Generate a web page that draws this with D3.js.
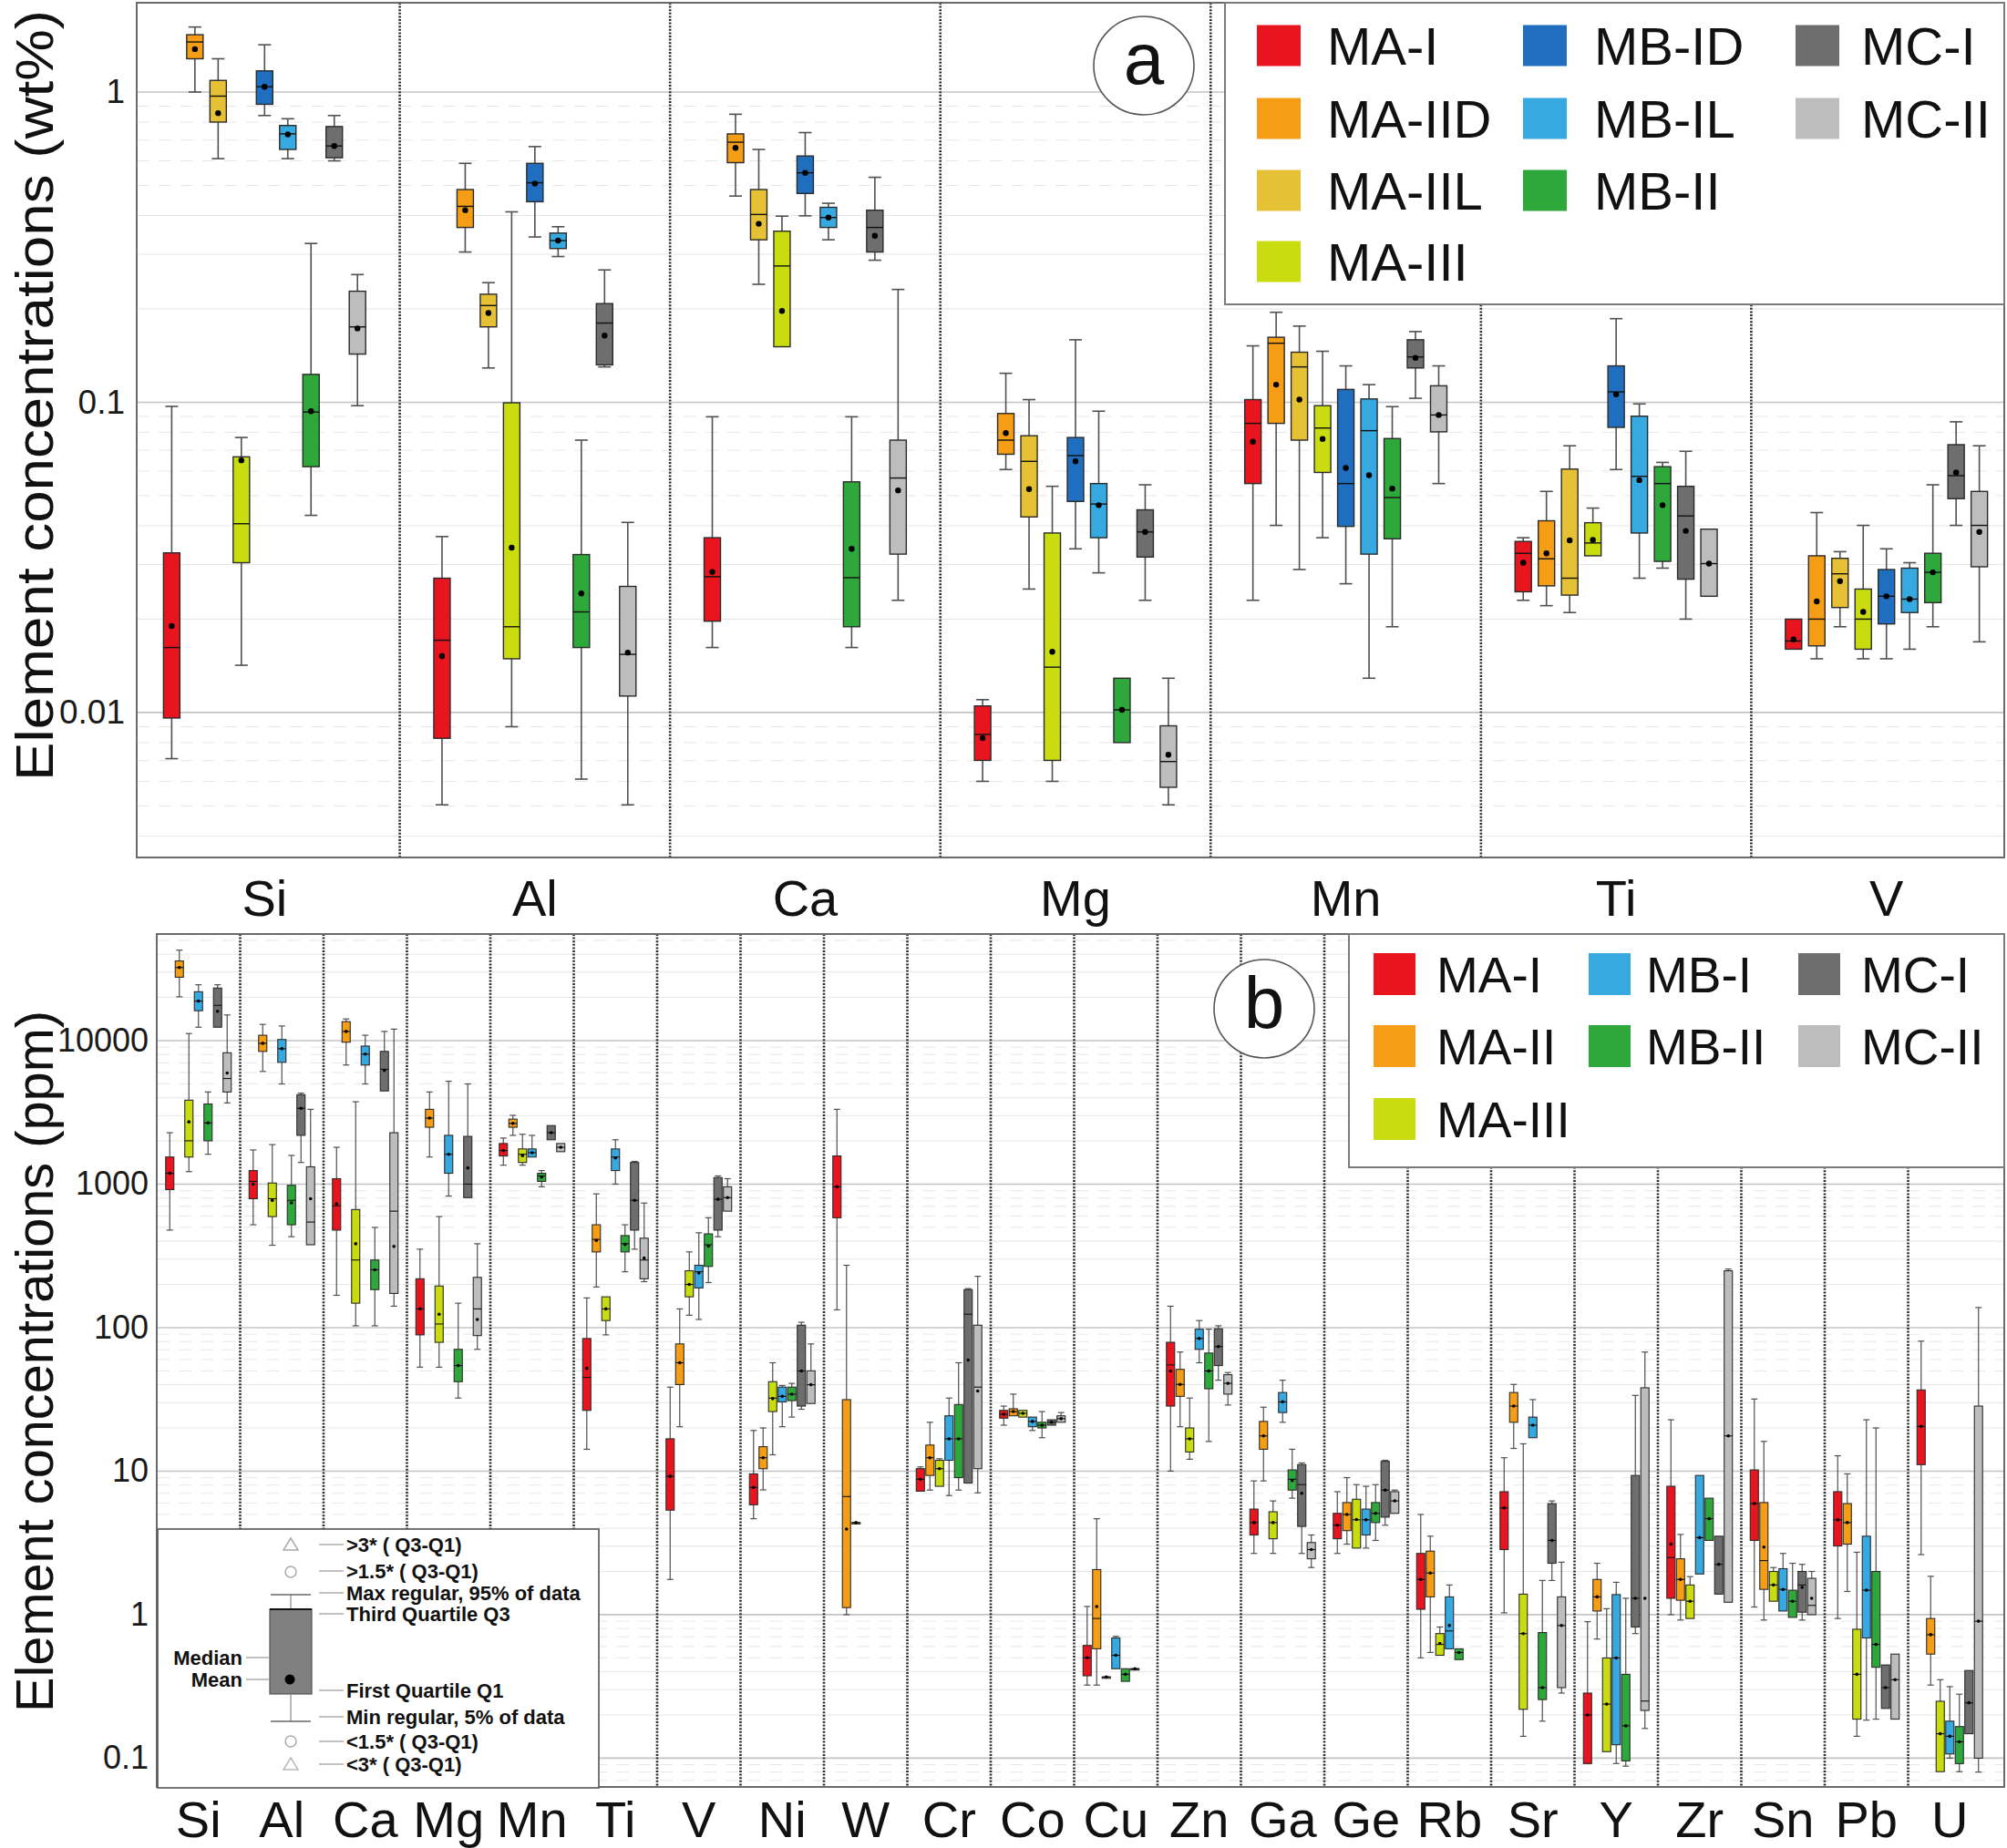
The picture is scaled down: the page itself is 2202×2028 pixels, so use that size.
<!DOCTYPE html>
<html><head><meta charset="utf-8">
<script src="https://cdn.jsdelivr.net/npm/d3@7"></script>
<style>
body{margin:0;background:#fff;}
svg{display:block;font-family:"Liberation Sans",Arial,Helvetica,sans-serif;}
</style>
</head><body>
<svg id="chart" width="2202" height="2028"></svg>
<script>
// ---------------- DATA: panel a (wt%) ----------------
// each entry: [low whisker, Q1, median, Q3, high whisker, mean]
const seriesA = ["MA-I","MA-IID","MA-IIL","MA-III","MB-ID","MB-IL","MB-II","MC-I","MC-II"];
const colorsA = ["#e8141e","#f59d14","#e6c136","#c8dc10","#1f6ebf","#36a9e1","#2ea83a","#6e6e6e","#bdbdbd"];
const elementsA = ["Si","Al","Ca","Mg","Mn","Ti","V"];
const ticksA = [0.01, 0.1, 1];
const tickLabelsA = ["0.01","0.1","1"];

const a_Si = [[0.0071,0.0096,0.0162,0.0327,0.097,0.019],[1.0,1.28,1.45,1.53,1.62,1.375],[0.61,0.80,0.97,1.09,1.28,0.855],[0.0142,0.0304,0.0406,0.0667,0.077,0.065],[0.84,0.913,1.04,1.17,1.42,1.04],[0.61,0.653,0.733,0.78,0.82,0.73],[0.0432,0.062,0.093,0.123,0.325,0.0936],[0.60,0.614,0.67,0.774,0.84,0.67],[0.0975,0.143,0.175,0.228,0.258,0.173]];
const a_Al = [[0.00504,0.00826,0.0171,0.0271,0.0369,0.0152],[0.305,0.366,0.428,0.485,0.589,0.416],[0.129,0.175,0.205,0.223,0.243,0.194],[0.009,0.0149,0.0189,0.0996,0.411,0.034],[0.341,0.443,0.51,0.589,0.667,0.507],[0.295,0.313,0.332,0.351,0.368,0.332],[0.0061,0.0162,0.0211,0.0323,0.0755,0.0242],[0.13,0.132,0.18,0.208,0.267,0.164],[0.00504,0.0113,0.0154,0.0255,0.041,0.0156]];
const a_Ca = [[0.0162,0.0197,0.0274,0.0366,0.0898,0.0284],[0.462,0.592,0.689,0.733,0.848,0.661],[0.24,0.334,0.403,0.485,0.653,0.376],[0.151,0.151,0.275,0.356,0.398,0.197],[0.399,0.471,0.549,0.622,0.74,0.549],[0.334,0.366,0.394,0.425,0.438,0.394],[0.0162,0.0189,0.0272,0.0554,0.0898,0.0337],[0.287,0.305,0.366,0.416,0.531,0.344],[0.023,0.0324,0.057,0.0755,0.231,0.052]];
const a_Mg = [[0.006,0.00701,0.0085,0.0105,0.011,0.00827],[0.0607,0.068,0.0755,0.092,0.124,0.0796],[0.025,0.0427,0.0645,0.078,0.102,0.0525],[0.006,0.00701,0.014,0.0379,0.0536,0.0157],[0.0337,0.0479,0.0673,0.077,0.159,0.0645],[0.0282,0.0366,0.047,0.0547,0.0936,0.0466],[0.008,0.008,0.0102,0.0129,0.0129,0.0102],[0.023,0.0317,0.0382,0.045,0.0542,0.0382],[0.00504,0.00574,0.00695,0.00906,0.0129,0.00731]];
const a_Mn = [[0.023,0.0547,0.0855,0.102,0.152,0.0746],[0.0401,0.0855,0.155,0.162,0.195,0.114],[0.0289,0.0755,0.13,0.145,0.176,0.102],[0.0366,0.0594,0.0826,0.0975,0.146,0.0762],[0.026,0.0398,0.0547,0.11,0.131,0.0614],[0.0129,0.0324,0.081,0.1025,0.114,0.0582],[0.0189,0.0363,0.0493,0.0764,0.0968,0.0527],[0.103,0.129,0.14,0.159,0.169,0.139],[0.0547,0.0803,0.091,0.113,0.131,0.091]];
const a_Ti = [[0.023,0.0245,0.0326,0.0356,0.0366,0.0304],[0.0221,0.0256,0.0313,0.0415,0.0516,0.0326],[0.021,0.0239,0.0271,0.0609,0.0724,0.0359],[0.032,0.032,0.0352,0.0409,0.0456,0.036],[0.0607,0.083,0.108,0.131,0.186,0.106],[0.0271,0.0379,0.0577,0.0902,0.0988,0.0561],[0.0292,0.0307,0.0547,0.062,0.064,0.0466],[0.02,0.0269,0.043,0.0536,0.0695,0.0385],[0.0237,0.0237,0.0302,0.039,0.039,0.0302]];
const a_V  = [[0.016,0.016,0.017,0.02,0.02,0.0172],[0.0149,0.0164,0.02,0.032,0.0441,0.0228],[0.0189,0.0218,0.028,0.0314,0.033,0.0265],[0.0149,0.016,0.02,0.025,0.0401,0.0211],[0.0149,0.0193,0.0237,0.0289,0.0337,0.0237],[0.016,0.021,0.0232,0.0292,0.0304,0.0232],[0.0189,0.0226,0.0283,0.0326,0.0542,0.0283],[0.0401,0.0489,0.058,0.073,0.0865,0.0594],[0.0169,0.0295,0.0401,0.0516,0.0724,0.0382]];
const statsA = [a_Si,a_Al,a_Ca,a_Mg,a_Mn,a_Ti,a_V];

// ---------------- DATA: panel b (ppm) ----------------
const seriesB = ["MA-I","MA-II","MA-III","MB-I","MB-II","MC-I","MC-II"];
const colorsB = ["#e8141e","#f59d14","#c8dc10","#36a9e1","#2ea83a","#6e6e6e","#bdbdbd"];
const elementsB = ["Si","Al","Ca","Mg","Mn","Ti","V","Ni","W","Cr","Co","Cu","Zn","Ga","Ge","Rb","Sr","Y","Zr","Sn","Pb","U"];
const ticksB = [0.1, 1, 10, 100, 1000, 10000];
const tickLabelsB = ["0.1","1","10","100","1000","10000"];

const b_Si = [[478,916,1190,1545,2282,1190],[20200,27650,32300,35900,42700,32300],[1222,1545,2004,3845,11200,2715],[12400,16150,18850,21900,24500,18850],[1614,2004,2669,3617,4385,2669],[12400,12400,17600,23240,24500,16000],[3680,4385,5445,8225,15100,5950]];
const b_Al = [[521,791,1045,1243,1730,1000],[6095,8410,9580,10900,12970,9580],[375,594,791,1018,1885,770],[4990,7060,8780,10180,12650,8780],[430,521,771,982,1585,740],[1415,2187,3375,4195,4305,3375],[378,378,544,1320,3320,791]];
const b_Ca = [[168,478,706,1091,1805,730],[6760,9750,11590,13550,14150,11590],[103,148,296,665,3750,384],[4990,6760,8050,9160,10900,8050],[103,184,253,296,499,253],[4460,4460,6310,8410,11590,6200],[141,173,648,2282,12020,368]];
const b_Mg = [[53,89,135,219,352,135],[1545,2490,2885,3320,4385,2885],[53,79,106,195,594,124],[826,1190,1614,2187,5210,1614],[32.3,42,54.4,70.6,148,54.4],[805,805,1000,2150,4990,1297],[70.6,88,135,224,384,114]];
const b_Mn = [[1355,1571,1714,1919,2094,1714],[2187,2490,2648,2837,3015,2648],[1355,1415,1614,1759,2225,1580],[1545,1545,1656,1759,2187,1656],[958,1045,1140,1190,1243,1120],[2038,2038,2282,2558,2558,2282],[1683,1683,1805,1919,1919,1805]];
const b_Ti = [[14.2,26.5,45,84,161,52],[192,337,412,521,855,405],[89,112,135,164,164,135],[1000,1243,1545,1759,2038,1520],[245,337,384,438,521,380],[352,478,771,1415,1440,771],[209,219,296,420,738,305]];
const b_V  = [[1.76,5.35,9.2,16.8,38.5,9.2],[20.4,40.1,56.9,77,135,56.9],[122,164,200,249,337,200],[114,189,245,272,458,240],[206,267,378,450,583,370],[430,478,784,1110,1140,784],[648,648,805,958,1091,805]];
const b_Ni = [[4.66,5.83,7.7,9.57,19.2,7.7],[7.4,10.4,12.4,14.8,20,12.4],[13,26,32.3,42,56.9,32],[20.4,30.4,33.2,38.5,39.5,33.2],[23.8,31,34.4,38.5,40.9,34.4],[27,28.4,49.9,104,109,49.9],[29.6,29.6,40,50,77,40]];
const b_W  = [[133,583,958,1571,3320,958],[1.0,1.12,6.65,31.5,272,3.95],[4.38,4.38,4.38,4.38,4.38,4.38],null,null,null,null];
const b_Cr = [[7.25,7.25,8.78,10.4,10.7,8.78],[7.38,9.33,12.4,15.2,21.9,12.4],[7.84,7.84,10.4,11.9,12.2,10.4],[6.76,11.9,16.8,24.3,32.3,16.8],[7.38,9.01,16.8,29.1,56.9,16.8],[8.26,8.26,124,184,187,59.4],[7.06,10.4,38.5,104,228,36.2]];
const b_Co = [[20.9,23.4,24.9,26.5,28.4,24.9],[24.3,24.3,26,27.2,34.4,26],[23.8,23.8,25.3,26.5,26.5,25.3],[19.2,20.4,22.2,23.8,23.8,22.2],[17.1,20,20.9,21.9,26,20.9],[20.9,20.9,21.9,22.8,22.8,21.9],[21.9,21.9,23.2,24.3,25.6,23.2]];
const b_Cu = [[0.323,0.375,0.5,0.61,1.14,0.5],[0.323,0.578,0.94,2.06,4.66,1.14],[0.368,0.368,0.368,0.368,0.368,0.368],[0.42,0.42,0.521,0.688,0.706,0.521],[0.343,0.343,0.384,0.42,0.42,0.384],[0.42,0.42,0.42,0.42,0.42,0.42],null];
const b_Zn = [[10,28.4,55,79,141,49.9],[20.4,33.2,40.2,51.2,67.6,40.2],[12.1,13.6,16.8,20,32.3,16.8],[56.9,70.6,84,97.5,112,84],[16.1,37.5,49.9,66.5,97.5,49.9],[43,54.4,73.8,98.2,103,73.8],[28.9,34.4,40.9,47,48.6,40.9]];
const b_Ga = [[2.67,3.59,4.38,5.44,8.55,4.38],[8.55,14.2,17.6,22.2,27.9,17.6],[2.67,3.38,4.38,5.21,6.2,4.38],[21.9,25.6,30.4,35.3,43,30.4],[6.48,7.38,8.78,10.2,14.2,8.6],[2.67,4.12,8.05,11.1,11.4,7],[2.13,2.45,2.84,3.18,3.59,2.84]];
const b_Ge = [[2.67,3.38,4.2,5.08,7.19,4.2],[3.1,3.85,4.99,6.04,9.01,4.99],[2.91,2.91,4.58,6.37,8.05,4.6],[2.91,3.59,4.58,5.44,7.84,4.58],[3.29,4.38,5.08,6.04,8.05,5.08],[4.2,4.78,7.38,11.7,11.9,7.38],[5.08,5.08,6.2,7.19,7.38,6.2]];
const b_Rb = [[0.5,1.09,1.76,2.67,4.99,1.76],[0.545,1.33,1.95,2.77,3.52,1.95],[0.521,0.521,0.62,0.738,0.82,0.63],[0.578,0.578,0.77,1.33,1.61,0.84],[0.486,0.486,0.545,0.578,0.578,0.545],null,null];
const b_Sr = [[1.03,2.84,5.54,7.19,12.4,5.54],[14.4,21.9,28.4,35.3,40.2,28.4],[0.142,0.219,0.738,1.39,15.5,0.738],[17.1,17.1,20.9,23.8,31.5,20.9],[0.181,0.256,0.31,0.75,1.73,0.31],[1.73,2.28,3.29,5.94,6.2,3.29],[0.284,0.31,0.84,1.33,2.32,0.84]];
const b_Y  = [[0.0917,0.0917,0.2,0.284,0.893,0.2],[0.676,1.06,1.33,1.76,2.28,1.33],[0.111,0.111,0.238,0.499,1.1,0.238],[0.0917,0.124,0.499,1.38,1.68,0.499],[0.088,0.0957,0.168,0.384,1.3,0.168],[0.738,0.82,1.3,9.33,33.7,1.3],[0.161,0.215,0.25,38.1,67.6,1.3]];
const b_Zr = [[1.0,1.3,2.5,7.84,22.8,3.1],[0.917,1.26,1.76,2.45,3.62,1.76],[0.94,0.94,1.24,1.61,1.84,1.24],[1.92,1.92,3.44,9.33,9.33,3.44],[3.29,3.29,4.66,6.48,6.48,4.66],[1.39,1.39,2.24,3.52,3.52,2.24],[1.22,1.22,17.6,249,256,17.6]];
const b_Sn = [[1.13,3.29,5.94,10.2,31.8,5.94],[0.917,1.5,2.38,6.04,16.1,2.96],[1.24,1.24,1.61,2.0,2.13,1.61],[1.06,1.06,1.5,2.09,2.67,1.5],[0.957,0.957,1.24,1.48,2.28,1.24],[0.917,1.04,1.61,2.0,2.24,1.55],[1.0,1.0,1.16,1.79,2.0,1.3]];
const b_Pb = [[0.94,3.01,4.58,7.19,12.8,4.58],[1.45,3.1,4.38,5.94,9.57,4.38],[0.142,0.187,0.384,0.791,2.72,0.384],[0.184,0.688,1.48,3.52,22.8,1.48],[0.187,0.43,0.62,2.0,20,0.62],[0.222,0.222,0.31,0.446,0.446,0.31],[0.187,0.187,0.352,0.531,0.531,0.352]];
const b_U  = [[2.62,11.1,20.5,36.8,80.5,20.5],[0.323,0.531,0.725,0.94,1.85,0.725],[0.0805,0.0805,0.148,0.249,0.352,0.148],[0.1,0.107,0.142,0.181,0.315,0.142],[0.0805,0.0917,0.13,0.166,0.279,0.13],[0.148,0.148,0.243,0.408,0.408,0.243],[0.08,0.1,0.9,28.4,138,0.9]];
const statsB = [b_Si,b_Al,b_Ca,b_Mg,b_Mn,b_Ti,b_V,b_Ni,b_W,b_Cr,b_Co,b_Cu,b_Zn,b_Ga,b_Ge,b_Rb,b_Sr,b_Y,b_Zr,b_Sn,b_Pb,b_U];

const insetLabels = [">3* ( Q3-Q1)",">1.5* ( Q3-Q1)","Max regular, 95% of data","Third Quartile Q3","First Quartile Q1","Min regular, 5% of data","<1.5* ( Q3-Q1)","<3* ( Q3-Q1)"];

// ---------------- DRAWING ----------------
const svg = d3.select("#chart");

function drawPanel(cfg){
  const g = svg.append("g");
  const y = d3.scaleLog().domain(cfg.yDomain).range([cfg.bottom, cfg.top]);
  const x = d3.scaleBand().domain(cfg.elements).range(cfg.xRange);
  const xs = d3.scalePoint().domain(cfg.series).range([0, x.bandwidth()]).padding(cfg.slotPad);

  // grid
  const grid = g.append("g");
  const lo = Math.floor(Math.log10(cfg.yDomain[0])), hi = Math.ceil(Math.log10(cfg.yDomain[1]));
  for (let e = lo; e <= hi; e++) {
    for (let m = 1; m <= 9; m++) {
      const v = m * Math.pow(10, e);
      if (v < cfg.yDomain[0] || v > cfg.yDomain[1]) continue;
      grid.append("line").attr("x1", cfg.left).attr("x2", cfg.right)
        .attr("y1", y(v)).attr("y2", y(v))
        .attr("stroke", m === 1 ? "#c4c4c4" : "#e6e6e6")
        .attr("stroke-width", m === 1 ? 1.6 : 1)
        .attr("stroke-dasharray", (m >= 5) ? "14,10" : null);
    }
  }
  // dividers
  cfg.elements.slice(1).forEach(el => {
    g.append("line").attr("x1", x(el)).attr("x2", x(el))
      .attr("y1", cfg.top).attr("y2", cfg.bottom)
      .attr("stroke", "#2a2a2a").attr("stroke-width", 2.6)
      .attr("stroke-dasharray", "2,1.6");
  });
  // boxes
  const bw = cfg.boxW, cw = cfg.capW;
  cfg.stats.forEach((grp, gi) => {
    const el = cfg.elements[gi];
    grp.forEach((s, si) => {
      if (!s) return;
      const cx = x(el) + xs(cfg.series[si]);
      const [wl, q1, md, q3, wh, mn] = s;
      const bg = g.append("g");
      const wcol = "#505050";
      if (wh > q3) {
        bg.append("line").attr("x1", cx).attr("x2", cx).attr("y1", y(wh)).attr("y2", y(q3)).attr("stroke", wcol).attr("stroke-width", cfg.wW);
        bg.append("line").attr("x1", cx - cw/2).attr("x2", cx + cw/2).attr("y1", y(wh)).attr("y2", y(wh)).attr("stroke", wcol).attr("stroke-width", cfg.wW);
      }
      if (wl < q1) {
        bg.append("line").attr("x1", cx).attr("x2", cx).attr("y1", y(q1)).attr("y2", y(wl)).attr("stroke", wcol).attr("stroke-width", cfg.wW);
        bg.append("line").attr("x1", cx - cw/2).attr("x2", cx + cw/2).attr("y1", y(wl)).attr("y2", y(wl)).attr("stroke", wcol).attr("stroke-width", cfg.wW);
      }
      const top = y(q3), h = Math.max(1.5, y(q1) - y(q3));
      bg.append("rect").attr("x", cx - bw/2).attr("y", top).attr("width", bw).attr("height", h)
        .attr("fill", cfg.colors[si]).attr("stroke", "#2b2b2b").attr("stroke-width", cfg.bS);
      bg.append("line").attr("x1", cx - bw/2).attr("x2", cx + bw/2).attr("y1", y(md)).attr("y2", y(md))
        .attr("stroke", "#111").attr("stroke-width", cfg.bS);
      bg.append("circle").attr("cx", cx).attr("cy", y(mn)).attr("r", cfg.dotR).attr("fill", "#000");
    });
  });
  // frame
  g.append("rect").attr("x", cfg.left).attr("y", cfg.top).attr("width", cfg.right - cfg.left).attr("height", cfg.bottom - cfg.top)
    .attr("fill", "none").attr("stroke", "#6a6a6a").attr("stroke-width", 2);
  // y axis
  const ax = g.append("g").attr("transform", `translate(${cfg.left},0)`)
    .call(d3.axisLeft(y).tickValues(cfg.ticks).tickFormat((d,i) => cfg.tickLabels[i]).tickSize(0).tickPadding(cfg.tickPad));
  ax.select(".domain").remove();
  ax.selectAll("text").attr("font-size", cfg.tickFont).attr("fill", "#1a1a1a")
    .attr("font-family", '"Liberation Sans",Arial,sans-serif');
  // x labels
  g.selectAll("text.xl").data(cfg.elements).enter().append("text")
    .attr("x", d => x(d) + x.bandwidth()/2).attr("y", cfg.xLabelY)
    .attr("text-anchor", "middle").attr("font-size", 56).attr("fill", "#111").text(d => d);
  // y title
  g.append("text").attr("transform", `translate(${cfg.titleX},${cfg.titleY}) rotate(-90)`)
    .attr("text-anchor", "middle").attr("font-size", 57).attr("fill", "#111")
    .attr("textLength", cfg.titleLen).attr("lengthAdjust", "spacingAndGlyphs")
    .text(cfg.title);
  return {g, x, y};
}

const pa = drawPanel({
  elements: elementsA, series: seriesA, colors: colorsA, stats: statsA,
  yDomain: [0.00341, 1.94], top: 3, bottom: 941, left: 150, right: 2199,
  xRange: [142, 2218], slotPad: 1.82, boxW: 18, capW: 14, wW: 1.6, bS: 1.4, dotR: 3.2,
  ticks: ticksA, tickLabels: tickLabelsA, tickPad: 13, tickFont: 37,
  xLabelY: 1005, titleX: 58, titleY: 434, titleLen: 846, title: "Element concentrations (wt%)"
});
const pb = drawPanel({
  elements: elementsB, series: seriesB, colors: colorsB, stats: statsB,
  yDomain: [0.063, 55300], top: 1025, bottom: 1961, left: 172, right: 2199,
  xRange: [172, 2185], slotPad: 1.36, boxW: 9, capW: 7, wW: 1.2, bS: 1.1, dotR: 1.8,
  ticks: ticksB, tickLabels: tickLabelsB, tickPad: 9, tickFont: 36,
  xLabelY: 2016, titleX: 58, titleY: 1494, titleLen: 770, title: "Element concentrations (ppm)"
});

// ---------------- LEGENDS ----------------
function legend(box, names, colors, cols, rows, font, sw) {
  const lg = svg.append("g");
  lg.append("rect").attr("x", box[0]).attr("y", box[1]).attr("width", box[2]).attr("height", box[3])
    .attr("fill", "#fff").attr("stroke", "#7a7a7a").attr("stroke-width", 2);
  names.forEach((n, i) => {
    const c = cols[i][0], r = cols[i][1];
    lg.append("rect").attr("x", c.sx).attr("y", rows[r] - sw[1]/2).attr("width", sw[0]).attr("height", sw[1]).attr("fill", colors[i]);
    lg.append("text").attr("x", c.tx).attr("y", rows[r]).attr("dy", "0.36em").attr("font-size", font).attr("fill", "#111").text(n);
  });
}
const colA = [{sx:1379,tx:1456},{sx:1671,tx:1749},{sx:1970,tx:2042}];
legend([1344, 3, 855, 331], seriesA, colorsA,
  [[colA[0],0],[colA[0],1],[colA[0],2],[colA[0],3],[colA[1],0],[colA[1],1],[colA[1],2],[colA[2],0],[colA[2],1]],
  [50,130,209,287], 58, [48,45]);
const colB = [{sx:1507,tx:1576},{sx:1743,tx:1806},{sx:1973,tx:2042}];
legend([1480, 1025, 719, 256], seriesB, colorsB,
  [[colB[0],0],[colB[0],1],[colB[0],2],[colB[1],0],[colB[1],1],[colB[2],0],[colB[2],1]],
  [1069,1148,1228], 55, [46,46]);

// panel badges
[["a",1255,72,92],["b",1387,1107,1128]].forEach(([t,cx,cy,base]) => {
  svg.append("ellipse").attr("cx", cx).attr("cy", cy).attr("rx", 55).attr("ry", 54)
    .attr("fill", "#fff").attr("stroke", "#555").attr("stroke-width", 1.6);
  svg.append("text").attr("x", cx).attr("y", base).attr("text-anchor", "middle")
    .attr("font-size", 80).attr("fill", "#111").text(t);
});

// ---------------- INSET KEY ----------------
const k = svg.append("g");
k.append("rect").attr("x", 173).attr("y", 1678).attr("width", 484).attr("height", 284)
  .attr("fill", "#fff").attr("stroke", "#555").attr("stroke-width", 1.6);
const kx = 319;
const tri = (cx, cy) => `M${cx},${cy-7}L${cx+8},${cy+6}L${cx-8},${cy+6}Z`;
k.append("path").attr("d", tri(kx, 1695)).attr("fill", "none").attr("stroke", "#aaa").attr("stroke-width", 1.5);
k.append("circle").attr("cx", kx).attr("cy", 1725).attr("r", 6).attr("fill", "none").attr("stroke", "#aaa").attr("stroke-width", 1.5);
k.append("line").attr("x1", kx).attr("x2", kx).attr("y1", 1750).attr("y2", 1766).attr("stroke", "#999").attr("stroke-width", 1.4);
k.append("line").attr("x1", 297).attr("x2", 341).attr("y1", 1750).attr("y2", 1750).attr("stroke", "#666").attr("stroke-width", 1.6);
k.append("rect").attr("x", 296).attr("y", 1766).attr("width", 46).attr("height", 93).attr("fill", "#808080").attr("stroke", "#555").attr("stroke-width", 1.2);
k.append("line").attr("x1", 296).attr("x2", 342).attr("y1", 1766).attr("y2", 1766).attr("stroke", "#111").attr("stroke-width", 2.2);
k.append("circle").attr("cx", kx - 1).attr("cy", 1843).attr("r", 5.5).attr("fill", "#000");
k.append("line").attr("x1", kx).attr("x2", kx).attr("y1", 1859).attr("y2", 1889).attr("stroke", "#999").attr("stroke-width", 1.4);
k.append("line").attr("x1", 297).attr("x2", 341).attr("y1", 1889).attr("y2", 1889).attr("stroke", "#666").attr("stroke-width", 1.6);
k.append("circle").attr("cx", kx).attr("cy", 1911).attr("r", 6).attr("fill", "none").attr("stroke", "#aaa").attr("stroke-width", 1.5);
k.append("path").attr("d", tri(kx, 1936)).attr("fill", "none").attr("stroke", "#bbb").attr("stroke-width", 1.5);
const labelY = [1695, 1724, 1748, 1771, 1855, 1884, 1911, 1936];
insetLabels.forEach((t, i) => {
  k.append("line").attr("x1", 350).attr("x2", 377).attr("y1", labelY[i]).attr("y2", labelY[i]).attr("stroke", "#999").attr("stroke-width", 1.2);
  k.append("text").attr("x", 380).attr("y", labelY[i]).attr("dy", "0.36em").attr("font-size", 22).attr("font-weight", "bold")
    .attr("fill", "#111").text(t);
});
[["Median",1819],["Mean",1843]].forEach(([t, yy]) => {
  k.append("text").attr("x", 266).attr("y", yy).attr("dy", "0.36em").attr("text-anchor", "end")
    .attr("font-size", 22).attr("font-weight", "bold").attr("fill", "#111").text(t);
  k.append("line").attr("x1", 270).attr("x2", 296).attr("y1", yy).attr("y2", yy).attr("stroke", "#999").attr("stroke-width", 1.2);
});
</script>
</body></html>
